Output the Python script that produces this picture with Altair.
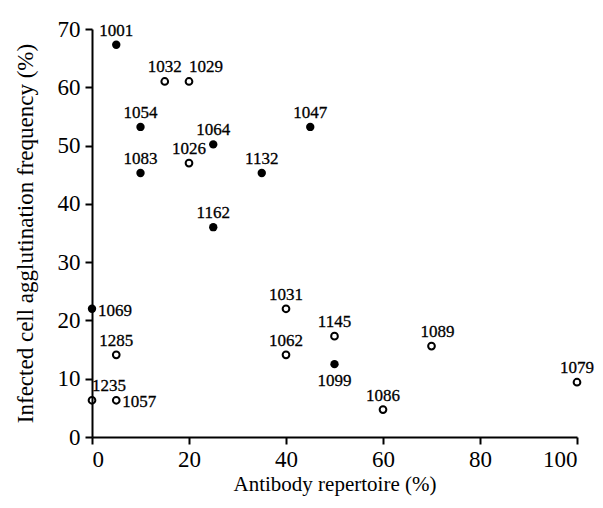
import altair as alt
import pandas as pd

ids = ["1001", "1032", "1029", "1054", "1064", "1026", "1083", "1047", "1132", "1162",
       "1069", "1285", "1235", "1057", "1031", "1062", "1145", "1099", "1086", "1089", "1079"]
antibody = [5, 15, 20, 10, 25, 20, 10, 45, 35, 25,
            0, 5, 0, 5, 40, 40, 50, 50, 60, 70, 100]
agglutination = [67.3, 61, 61, 53.2, 50.2, 47, 45.3, 53.2, 45.3, 36,
                 22, 14.1, 6.3, 6.3, 22, 14.1, 17.3, 12.5, 4.7, 15.6, 9.4]
filled = [True, False, False, True, True, False, True, True, True, True,
          True, False, False, False, False, False, False, True, False, False, False]
label_side = ["above", "above", "above-start", "above", "above", "above", "above", "above", "above", "above",
              "right", "above", "above-start", "right", "above", "above", "above", "below", "above",
              "above-slight", "above"]

df = pd.DataFrame({"id": ids, "x": antibody, "y": agglutination,
                   "filled": filled, "side": label_side})

FONT = "Liberation Serif"
xs = alt.Scale(domain=[0, 100], nice=False)
ys = alt.Scale(domain=[0, 70], nice=False)

base = alt.Chart(df)

common_axis = dict(grid=False, domainColor="black", domainWidth=2, tickColor="black",
                   tickWidth=2, tickSize=7, labelFont=FONT, labelFontSize=23,
                   labelColor="black", titleFont=FONT, titleFontWeight="normal",
                   titleColor="black")

xenc = alt.X("x:Q", scale=xs, title="Antibody repertoire (%)",
             axis=alt.Axis(values=[0, 20, 40, 60, 80, 100], labelPadding=4,
                           titleFontSize=21, titlePadding=2, **common_axis))
yenc = alt.Y("y:Q", scale=ys, title="Infected cell agglutination frequency (%)",
             axis=alt.Axis(values=[0, 10, 20, 30, 40, 50, 60, 70], labelPadding=5,
                           titleFontSize=23, titlePadding=20, **common_axis))

filled_pts = base.transform_filter(alt.datum.filled).mark_circle(
    size=70, color="black", opacity=1).encode(x=xenc, y=yenc)
open_pts = base.transform_filter(~alt.datum.filled).mark_point(
    shape="circle", size=45, color="black", filled=False, strokeWidth=2, opacity=1).encode(x="x:Q", y="y:Q")

def txt(side, **kw):
    return base.transform_filter(alt.datum.side == side).mark_text(
        font=FONT, fontSize=17, color="black", stroke="black", strokeWidth=0.3, **kw
    ).encode(x="x:Q", y="y:Q", text="id:N")

t_above = txt("above", align="center", baseline="alphabetic", dy=-9)
t_right = txt("right", align="left", baseline="middle", dx=6, dy=2)
t_below = txt("below", align="center", baseline="top", dy=9)
t_start = txt("above-start", align="left", baseline="alphabetic", dx=0, dy=-9)
t_slight = txt("above-slight", align="left", baseline="alphabetic", dx=-11, dy=-9)

chart = alt.layer(filled_pts, open_pts, t_above, t_right, t_below, t_start, t_slight).properties(
    width=485, height=408, autosize=alt.AutoSizeParams(type="none"),
    padding={"left": 84, "top": 21, "right": 18, "bottom": 63},
    background="white"
).configure_view(strokeWidth=0, stroke=None)

chart.save("out.html", embed_options={"renderer": "svg", "actions": False})
